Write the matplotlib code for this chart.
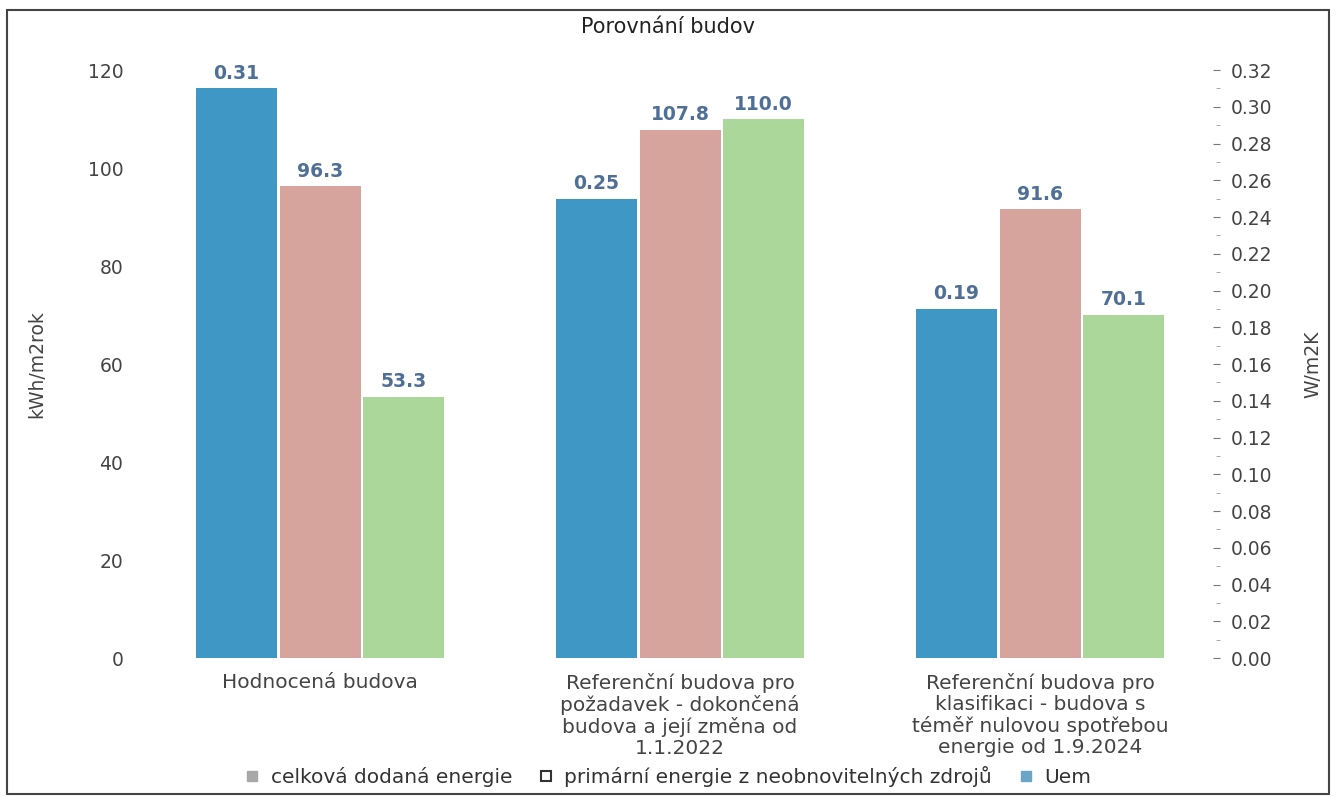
import numpy as np
import matplotlib
matplotlib.use("Agg")
import matplotlib.pyplot as plt
from matplotlib.lines import Line2D
from matplotlib.patches import Rectangle
from matplotlib.ticker import MultipleLocator

categories = [
    "Hodnocená budova",
    "Referenční budova pro\npožadavek - dokončená\nbudova a její změna od\n1.1.2022",
    "Referenční budova pro\nklasifikaci - budova s\ntéměř nulovou spotřebou\nenergie od 1.9.2024",
]
uem = [0.31, 0.25, 0.19]
celkova = [96.3, 107.8, 91.6]
primarni = [53.3, 110.0, 70.1]
legend_labels = ["celková dodaná energie", "primární energie z neobnovitelných zdrojů", "Uem"]

c_blue = "#3f97c5"
c_pink = "#d6a39d"
c_green = "#acd79a"
c_val = "#4f6f96"
c_txt = "#444444"

plt.rcParams["font.family"] = ["DejaVu Sans"]

fig = plt.figure(figsize=(13.36, 7.98), dpi=100)
ax = fig.add_axes([0.1048, 0.1754, 0.8084, 0.7368])
ax2 = ax.twinx()

x = np.arange(len(categories))
w = 0.225

b_pink = ax.bar(x, celkova, w, color=c_pink, zorder=2)
b_green = ax.bar(x + 0.232, primarni, w, color=c_green, zorder=2)
b_blue = ax2.bar(x - 0.232, uem, w, color=c_blue, zorder=2)

for bars, vals, a, fmt in [(b_pink, celkova, ax, "{:.1f}"),
                           (b_green, primarni, ax, "{:.1f}"),
                           (b_blue, uem, ax2, "{:.2f}")]:
    for b, v in zip(bars, vals):
        a.annotate(fmt.format(v), (b.get_x() + b.get_width() / 2, v),
                   xytext=(0, 4), textcoords="offset points",
                   ha="center", va="bottom", fontsize=13.5,
                   fontweight="bold", color=c_val)

ax.set_xlim(-0.5, 2.5)
ax.set_ylim(0, 120)
ax2.set_ylim(0, 0.32)
ax.set_yticks([0, 20, 40, 60, 80, 100, 120])
ax2.yaxis.set_major_locator(MultipleLocator(0.02))
ax2.yaxis.set_minor_locator(MultipleLocator(0.01))
ax2.yaxis.set_major_formatter(plt.FormatStrFormatter("%.2f"))

ax.set_xticks(x)
ax.set_xticklabels(categories, fontsize=14.5, color=c_txt, linespacing=1.12)
ax.tick_params(axis="x", length=0, pad=11)
ax.tick_params(axis="y", length=0, pad=12, labelsize=13.5, labelcolor=c_txt)
ax2.tick_params(axis="y", which="major", direction="in", length=5,
                color="#777777", pad=8, labelsize=13.5, labelcolor=c_txt)
ax2.tick_params(axis="y", which="minor", direction="in", length=3,
                color="#999999")

for a in (ax, ax2):
    for s in a.spines.values():
        s.set_visible(False)

ax.set_ylabel("kWh/m2rok", fontsize=13.5, color=c_txt, labelpad=30)
ax2.set_ylabel("W/m2K", fontsize=13.5, color=c_txt, labelpad=22)

fig.text(0.5, 0.966, "Porovnání budov", ha="center", va="center",
         fontsize=15, color="#222222")

handles = [
    Line2D([], [], marker="s", ls="none", markersize=7,
           markerfacecolor="#a8a8a8", markeredgecolor="#a8a8a8"),
    Line2D([], [], marker="s", ls="none", markersize=7,
           markerfacecolor="white", markeredgecolor="#333333", markeredgewidth=1.5),
    Line2D([], [], marker="s", ls="none", markersize=7,
           markerfacecolor="#6aa6c8", markeredgecolor="#6aa6c8"),
]
fig.legend(handles, legend_labels, loc="center", bbox_to_anchor=(0.5, 0.027),
           ncol=3, frameon=False, fontsize=14.5, handlelength=0.8,
           handletextpad=0.5, columnspacing=1.3, labelcolor="#333333")

fig.add_artist(Rectangle((0.005, 0.005), 0.99, 0.982, transform=fig.transFigure,
                         fill=False, edgecolor="#444444", linewidth=1.5))

fig.savefig("out.png", dpi=100)
plt.close(fig)
